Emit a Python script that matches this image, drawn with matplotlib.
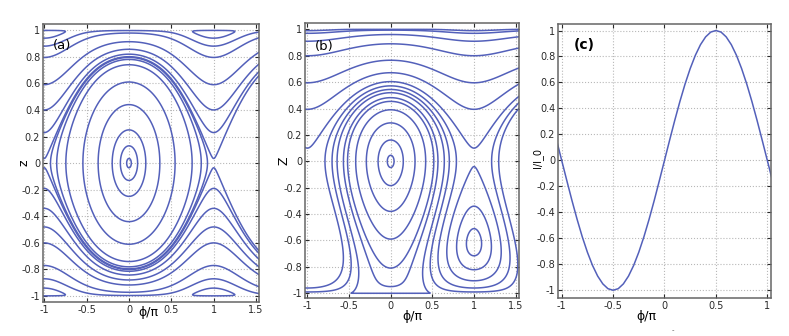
import numpy as np
import matplotlib.pyplot as plt

# model constants for the two phase portraits
LAM_A = 5.0
LAM_B, KAP_B = 6.58, 8.56

# (a) z where each trajectory crosses phi/pi = -1 (upper / lower half), and loop tops at phi = 0
a_upper_z = [0.035, 0.23, 0.40, 0.59, 0.795, 0.88, 0.94]
a_lower_z = [-0.035, -0.19, -0.34, -0.48, -0.60, -0.77, -0.87, -0.94]
a_loop_top = [0.035, 0.13, 0.25, 0.44, 0.61, 0.74, 0.78, 0.795]

# (b) same idea: open lines above the saddle, island loops, lines under the island, loops round 0
b_upper_z = [0.10, 0.394, 0.595, 0.80, 0.91, 0.97, 0.99]
b_island_top = [-0.04, -0.34, -0.51]
b_floor_z = [-0.96, -0.99]
b_loop_bottom = [-0.05, -0.185, -0.38, -0.59, -0.81, -0.95, -1.0]

# (c) I/I_0 against phi/pi
c_phi = [-1.05, -1.0, -0.95, -0.9, -0.85, -0.8, -0.75, -0.7, -0.65, -0.6, -0.55,
         -0.5, -0.45, -0.4, -0.35, -0.3, -0.25, -0.2, -0.15, -0.1, -0.05,
         0.0, 0.05, 0.1, 0.15, 0.2, 0.25, 0.3, 0.35, 0.4, 0.45,
         0.5, 0.55, 0.6, 0.65, 0.7, 0.75, 0.8, 0.85, 0.9, 0.95, 1.0, 1.05]
c_current = [0.156, 0.0, -0.156, -0.309, -0.454, -0.588, -0.707, -0.809, -0.891, -0.951, -0.988,
             -1.0, -0.988, -0.951, -0.891, -0.809, -0.707, -0.588, -0.454, -0.309, -0.156,
             0.0, 0.156, 0.309, 0.454, 0.588, 0.707, 0.809, 0.891, 0.951, 0.988,
             1.0, 0.988, 0.951, 0.891, 0.809, 0.707, 0.588, 0.454, 0.309, 0.156, 0.0, -0.156]

LINE = "#5360ba"
TICK_Y = [-1, -0.8, -0.6, -0.4, -0.2, 0, 0.2, 0.4, 0.6, 0.8, 1]
TICK_Y_LABELS = ["-1", "-0.8", "-0.6", "-0.4", "-0.2", "0", "0.2", "0.4", "0.6", "0.8", "1"]


def ham(phi, z, lam, kap=0.0):
    root = np.sqrt(np.clip(1 - z ** 2, 0, None))
    return lam * z ** 2 / 2 + kap * z ** 3 / 3 - root * np.cos(np.pi * phi)


def draw(ax, zlo, zhi, levels, lam, kap=0.0, plo=-1.1, phi_hi=1.62):
    phi = np.linspace(plo, phi_hi, 900)
    z = np.linspace(zlo, zhi, 900)
    P, Z = np.meshgrid(phi, z)
    ax.contour(P, Z, ham(P, Z, lam, kap), levels=sorted(set(levels)),
               colors=LINE, linewidths=1.1, linestyles="solid")


def style(ax, xticks, xlabels):
    ax.set_xticks(xticks)
    ax.set_xticklabels(xlabels)
    ax.set_yticks(TICK_Y)
    ax.set_yticklabels(TICK_Y_LABELS)
    ax.tick_params(direction="in", length=3, width=0.8, labelsize=7,
                   top=True, right=True, pad=2, colors="#2a2a2a")
    ax.grid(True, linestyle=":", color="#b8b8b8", linewidth=0.8)
    for s in ax.spines.values():
        s.set_color("#666666")
        s.set_linewidth(1.1)


fig = plt.figure(figsize=(7.89, 3.36), dpi=100)
ax1 = fig.add_axes([0.0545, 0.101, 0.2738, 0.827])
ax2 = fig.add_axes([0.3866, 0.113, 0.2712, 0.8185])
ax3 = fig.add_axes([0.7072, 0.113, 0.27, 0.8155])

# (a)
draw(ax1, 0, 1, [ham(1, v, LAM_A) for v in a_upper_z], LAM_A)
draw(ax1, -1, 0, [ham(1, v, LAM_A) for v in a_lower_z], LAM_A)
draw(ax1, -1, 1, [ham(0, v, LAM_A) for v in a_loop_top], LAM_A, plo=-1.0, phi_hi=1.0)
ax1.set_xlim(-1.015, 1.535)
ax1.set_ylim(-1.045, 1.045)
style(ax1, [-1, -0.5, 0, 0.5, 1, 1.5], ["-1", "-0.5", "0", "0.5", "1", "1.5"])
ax1.text(0.046, 0.925, "(a)", transform=ax1.transAxes, fontsize=9.5, va="center")
ax1.set_ylabel("z", fontsize=9, rotation=90)
ax1.yaxis.set_label_coords(-0.058, 0.5)
ax1.set_xlabel("ϕ/π", fontsize=9)
ax1.xaxis.set_label_coords(0.49, -0.015)

# (b)
draw(ax2, 0, 1, [ham(1, v, LAM_B, KAP_B) for v in b_upper_z], LAM_B, KAP_B)
draw(ax2, -1, 0, [ham(1, v, LAM_B, KAP_B) for v in b_island_top], LAM_B, KAP_B,
     plo=0.0, phi_hi=1.62)
draw(ax2, -1, 1, [ham(1, v, LAM_B, KAP_B) for v in b_floor_z], LAM_B, KAP_B)
draw(ax2, -1, 1, [ham(0, v, LAM_B, KAP_B) - 1e-3 for v in b_loop_bottom], LAM_B, KAP_B,
     plo=-1.0, phi_hi=1.0)
ax2.set_xlim(-1.028, 1.54)
ax2.set_ylim(-1.036, 1.048)
style(ax2, [-1, -0.5, 0, 0.5, 1, 1.5], ["-1", "-0.5", "0", "0.5", "1", "1.5"])
ax2.text(0.047, 0.914, "(b)", transform=ax2.transAxes, fontsize=9.5, va="center")
ax2.set_ylabel("Z", fontsize=9, rotation=90)
ax2.yaxis.set_label_coords(-0.066, 0.5)
ax2.set_xlabel("ϕ/π", fontsize=9)
ax2.xaxis.set_label_coords(0.5, -0.045)

# (c)
ax3.plot(c_phi, c_current, color=LINE, linewidth=1.1)
ax3.set_xlim(-1.036, 1.036)
ax3.set_ylim(-1.06, 1.05)
style(ax3, [-1, -0.5, 0, 0.5, 1], ["-1", "-0.5", "0", "0.5", "1"])
ax3.text(0.075, 0.925, "(c)", transform=ax3.transAxes, fontsize=10,
         fontweight="bold", va="center")
ax3.set_ylabel("I/I_0", fontsize=7, rotation=90)
ax3.yaxis.set_label_coords(-0.07, 0.51)
ax3.set_xlabel("ϕ/π", fontsize=9)
ax3.xaxis.set_label_coords(0.413, -0.045)
fig.text(0.851, 0.012, "-", fontsize=5, color="#555555")

fig.savefig("out.png", dpi=100)
